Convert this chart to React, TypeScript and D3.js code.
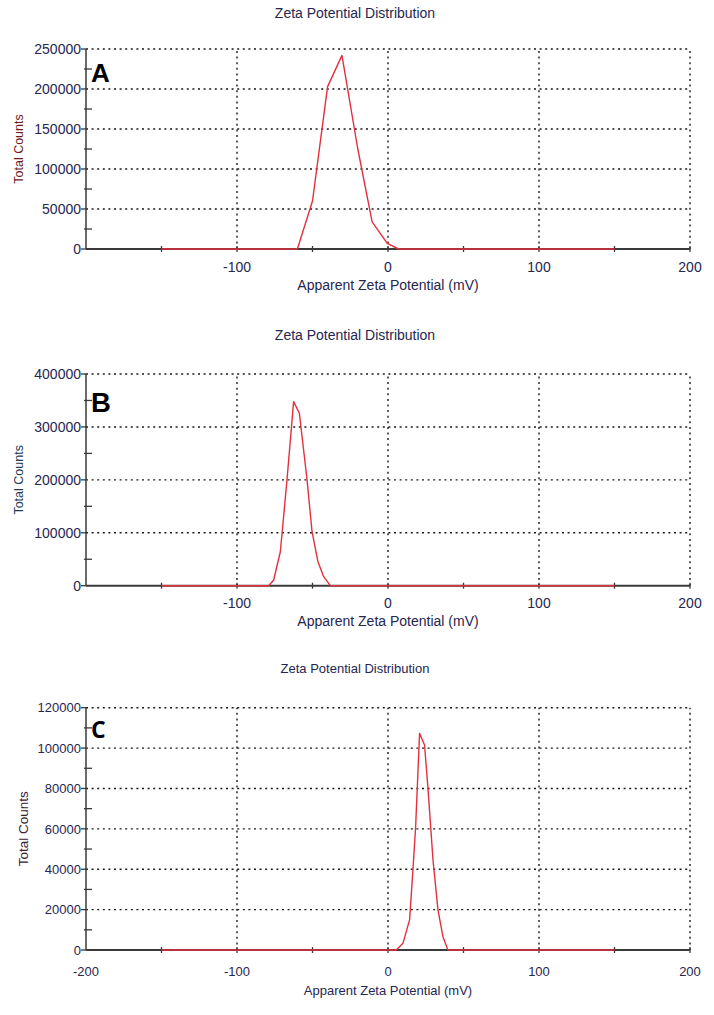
import React from 'react';
import * as d3 from 'd3';

// Panel A (mV, counts)
const potentialA = [-150, -60, -50, -40, -30.5, -20, -10.5, -0.5, 7, 150];
const countsA = [0, 0, 60000, 203000, 242000, 125000, 34000, 7000, 0, 0];

// Panel B
const potentialB = [-150, -79, -75.7, -71.3, -66.9, -62.5, -58.7, -53.6, -50.3, -46.4, -42.6, -38.2, 150];
const countsB = [0, 0, 10800, 64200, 199700, 347700, 325800, 199700, 102000, 45300, 17000, 0, 0];

// Panel C
const potentialC = [-150, 5.5, 9.9, 14.3, 16.5, 18.3, 19.8, 20.9, 24.2, 26.4, 29.8, 33.1, 36.4, 39.7, 150];
const countsC = [0, 0, 3300, 14900, 39600, 61000, 87500, 107300, 101500, 80900, 44600, 19800, 6600, 0, 0];

const xDomain = [-200, 200];
const xGridTicks = [-100, 0, 100, 200];
const xTickLabelsAB = [-100, 0, 100, 200];
const xTickLabelsC = [-200, -100, 0, 100, 200];
const yMaxes = [250000, 400000, 120000];
const ySteps = [50000, 100000, 20000];

const title = 'Zeta Potential Distribution';
const xTitle = 'Apparent Zeta Potential (mV)';
const yTitle = 'Total Counts';

const FONT = '"Liberation Sans", Arial, sans-serif';
const LABEL_COLOR = '#26264f';

type PanelProps = {
  potential: number[];
  counts: number[];
  yMax: number;
  yStep: number;
  xLabels: number[];
  letter: string;
  letterFont: string;
  letterSize: number;
  letterBase: number;
  top: number;
  bottom: number;
  titleBase: number;
  tickBase: number;
  xTitleBase: number;
  yTitleX: number;
  yTitleColor: string;
  fs: number; // base font size
  yTitleFs: number;
};

const left = 86;
const right = 690;

function Panel(p: PanelProps) {
  const x = d3.scaleLinear().domain(xDomain).range([left, right]);
  const y = d3.scaleLinear().domain([0, p.yMax]).range([p.bottom, p.top]);
  const major = d3.range(0, p.yMax + 1, p.yStep);
  const minor = d3.range(p.yStep / 2, p.yMax, p.yStep);
  const xTicks = d3.range(-150, 201, 50);
  const line = d3
    .line<number>()
    .x((_, i) => x(p.potential[i]))
    .y((d) => y(d));
  const dash = '2 3.6';
  const midY = (p.top + p.bottom) / 2;

  return (
    <g fontFamily={FONT}>
      <text x={355} y={p.titleBase} textAnchor="middle" fontSize={p.fs} fill={LABEL_COLOR}>
        {title}
      </text>
      {/* grid */}
      {major.filter((v) => v > 0).map((v) => (
        <line key={'h' + v} x1={left} x2={right} y1={y(v)} y2={y(v)} stroke="#1a1a1a" strokeWidth={1.4} strokeDasharray={dash} />
      ))}
      {xGridTicks.map((v) => (
        <line key={'v' + v} x1={x(v)} x2={x(v)} y1={p.bottom} y2={p.top} stroke="#1a1a1a" strokeWidth={1.4} strokeDasharray={dash} />
      ))}
      {/* axes */}
      <line x1={left} x2={left} y1={p.bottom} y2={p.top} stroke="#3a3a3a" strokeWidth={1.5} />
      <line x1={left} x2={right} y1={p.bottom} y2={p.bottom} stroke="#3a3a3a" strokeWidth={2} />
      {major.map((v) => (
        <g key={'ym' + v}>
          <line x1={left - 5} x2={left} y1={y(v)} y2={y(v)} stroke="#3a3a3a" strokeWidth={1.3} />
          <text x={left - 5} y={y(v) + p.fs * 0.36} textAnchor="end" fontSize={p.fs} fill={LABEL_COLOR}>
            {v}
          </text>
        </g>
      ))}
      {minor.map((v) => (
        <line key={'yn' + v} x1={left - 2} x2={left + 6} y1={y(v)} y2={y(v)} stroke="#3a3a3a" strokeWidth={1.3} />
      ))}
      {xTicks.map((v) => (
        <line key={'xt' + v} x1={x(v)} x2={x(v)} y1={p.bottom - 3} y2={p.bottom + 3} stroke="#3a3a3a" strokeWidth={1.3} />
      ))}
      {p.xLabels.map((v) => (
        <text key={'xl' + v} x={x(v)} y={p.tickBase} textAnchor="middle" fontSize={p.fs} fill={LABEL_COLOR}>
          {v}
        </text>
      ))}
      <text x={(left + right) / 2} y={p.xTitleBase} textAnchor="middle" fontSize={p.fs} fill={LABEL_COLOR}>
        {xTitle}
      </text>
      <text
        transform={`translate(${p.yTitleX},${midY}) rotate(-90)`}
        textAnchor="middle"
        fontSize={p.yTitleFs}
        fill={p.yTitleColor}
      >
        {yTitle}
      </text>
      {/* data */}
      <path d={line(p.counts) || ''} fill="none" stroke="#e2303f" strokeWidth={1.4} strokeLinejoin="round" />
      <text x={91} y={p.letterBase} fontFamily={p.letterFont} fontWeight="bold" fontSize={p.letterSize} fill="#000">
        {p.letter}
      </text>
    </g>
  );
}

export default function App() {
  return (
    <svg width={714} height={1015} style={{ position: 'absolute', left: 0, top: 0, background: '#fff' }}>
      <rect width={714} height={1015} fill="#fff" />
      <Panel
        potential={potentialA}
        counts={countsA}
        yMax={yMaxes[0]}
        yStep={ySteps[0]}
        xLabels={xTickLabelsAB}
        letter="A"
        letterFont={FONT}
        letterSize={26}
        letterBase={82}
        top={49}
        bottom={249}
        titleBase={18}
        tickBase={272}
        xTitleBase={290}
        yTitleX={23}
        yTitleColor="#6e1a1a"
        fs={14}
        yTitleFs={12.5}
      />
      <Panel
        potential={potentialB}
        counts={countsB}
        yMax={yMaxes[1]}
        yStep={ySteps[1]}
        xLabels={xTickLabelsAB}
        letter="B"
        letterFont={FONT}
        letterSize={27.5}
        letterBase={411.7}
        top={374}
        bottom={585.7}
        titleBase={340}
        tickBase={608.4}
        xTitleBase={626}
        yTitleX={23}
        yTitleColor="#203a5a"
        fs={14}
        yTitleFs={12.5}
      />
      <Panel
        potential={potentialC}
        counts={countsC}
        yMax={yMaxes[2]}
        yStep={ySteps[2]}
        xLabels={xTickLabelsC}
        letter="C"
        letterFont='"Open Sans", sans-serif'
        letterSize={23}
        letterBase={738.3}
        top={707.7}
        bottom={950}
        titleBase={673}
        tickBase={976}
        xTitleBase={995}
        yTitleX={28}
        yTitleColor="#3a2036"
        fs={13}
        yTitleFs={13.5}
      />
    </svg>
  );
}
